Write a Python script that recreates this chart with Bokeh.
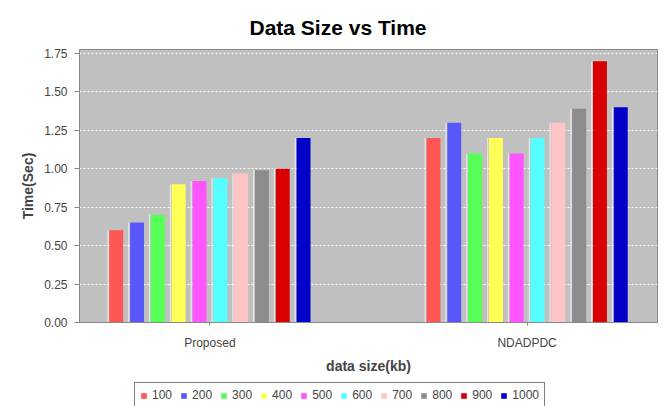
from bokeh.plotting import figure
from bokeh.layouts import column
from bokeh.models import Range1d, FixedTicker, Legend, LegendItem, Title, ColumnDataSource
from bokeh.embed import file_html
from bokeh.resources import INLINE

# ---- data ----
categories = ["Proposed", "NDADPDC"]
series = ["100", "200", "300", "400", "500", "600", "700", "800", "900", "1000"]
proposed = [0.60, 0.65, 0.70, 0.90, 0.92, 0.94, 0.97, 0.99, 1.00, 1.20]
ndadpdc = [1.20, 1.30, 1.10, 1.20, 1.10, 1.20, 1.30, 1.39, 1.70, 1.40]
colors = ["#FF5555", "#5858F8", "#55FF55", "#FFFF55", "#FF55FF",
          "#55FFFF", "#FFC4C4", "#8C8C8C", "#D80000", "#0000C8"]
y_ticks = [0.0, 0.25, 0.5, 0.75, 1.0, 1.25, 1.5, 1.75]

STEP = 0.0656
BAR_W = 0.044
FONT = "Liberation Sans"
MAIN_H = 376
LEG_H = 30

p = figure(width=665, height=MAIN_H, output_backend="svg", toolbar_location=None,
           x_range=Range1d(-0.411, 1.411), y_range=Range1d(0, 1.776),
           min_border_left=79, min_border_right=8, min_border_top=49,
           min_border_bottom=MAIN_H - 322)
p.background_fill_color = "#C0C0C0"
p.border_fill_color = "white"
p.outline_line_color = "#888888"
p.outline_line_width = 1

p.xgrid.grid_line_color = None
p.ygrid.ticker = FixedTicker(ticks=y_ticks)
p.ygrid.grid_line_color = "white"
p.ygrid.grid_line_dash = "2 2"
p.ygrid.grid_line_width = 1

# legend strip (separate small figure, its bars fall outside its own range)
p2 = figure(width=665, height=LEG_H, output_backend="svg", toolbar_location=None,
            x_range=Range1d(-0.411, 1.411), y_range=Range1d(10, 11),
            x_axis_location=None, y_axis_location=None,
            min_border=0, min_border_left=0, min_border_right=0,
            min_border_top=0, min_border_bottom=0)
p2.outline_line_color = None
p2.grid.grid_line_color = None
p2.background_fill_color = "white"
p2.border_fill_color = "white"

leg_renderers = []
for i, s in enumerate(series):
    xs = [c + (i - 4.5) * STEP for c in range(len(categories))]
    tops = [proposed[i], ndadpdc[i]]
    src = ColumnDataSource(dict(x=xs, top=tops,
                                xl=[x - BAR_W / 2 - 0.004 for x in xs]))
    p.vbar(x="x", top="top", width=BAR_W, bottom=0, source=src,
           fill_color=colors[i], line_color=None)
    p.vbar(x="xl", top="top", width=0.004, bottom=0, source=src,
           fill_color="white", fill_alpha=0.6, line_color=None)
    r2 = p2.vbar(x="x", top="top", width=BAR_W, bottom=0, source=src,
                 fill_color=colors[i], line_color=None)
    leg_renderers.append(r2)

# axes
p.xaxis.ticker = FixedTicker(ticks=list(range(len(categories))))
p.xaxis.major_label_overrides = {i: c for i, c in enumerate(categories)}
p.xaxis.axis_label = "data size(kb)"
p.yaxis.ticker = FixedTicker(ticks=y_ticks)
p.yaxis.major_label_overrides = {t: f"{t:.2f}" for t in y_ticks}
p.yaxis.axis_label = "Time(Sec)"

for ax in (p.xaxis[0], p.yaxis[0]):
    ax.axis_line_color = "#888888"
    ax.major_tick_line_color = "#888888"
    ax.minor_tick_line_color = None
    ax.major_tick_in = 0
    ax.major_label_text_font = FONT
    ax.major_label_text_font_size = "12px"
    ax.major_label_text_color = "#444444"
    ax.axis_label_text_font = FONT
    ax.axis_label_text_font_size = "14px"
    ax.axis_label_text_font_style = "bold"
    ax.axis_label_text_color = "#444444"

p.yaxis.major_tick_out = 5
p.yaxis.major_label_standoff = 7
p.yaxis.axis_label_standoff = 5
p.xaxis.major_tick_out = 3
p.xaxis.major_label_standoff = 10
p.xaxis.axis_label_standoff = 5

title = Title(text="Data Size vs Time", align="left", offset=170,
              text_font=FONT, text_font_size="21px", text_font_style="bold",
              text_color="black", standoff=21)
p.add_layout(title, "above")

legend = Legend(items=[LegendItem(label=s, renderers=[r]) for s, r in zip(series, leg_renderers)],
                location=(55, -2), orientation="horizontal",
                glyph_width=7, glyph_height=7, label_standoff=5, spacing=8,
                padding=5, margin=0, label_width=20, label_height=13,
                label_text_font=FONT, label_text_font_size="12px",
                label_text_color="#444444", label_text_baseline="middle",
                border_line_color="black", border_line_width=1,
                background_fill_color="white", background_fill_alpha=1)
p2.add_layout(legend)

layout = column(p, p2, spacing=0)
open("out.html", "w").write(file_html(layout, INLINE))
